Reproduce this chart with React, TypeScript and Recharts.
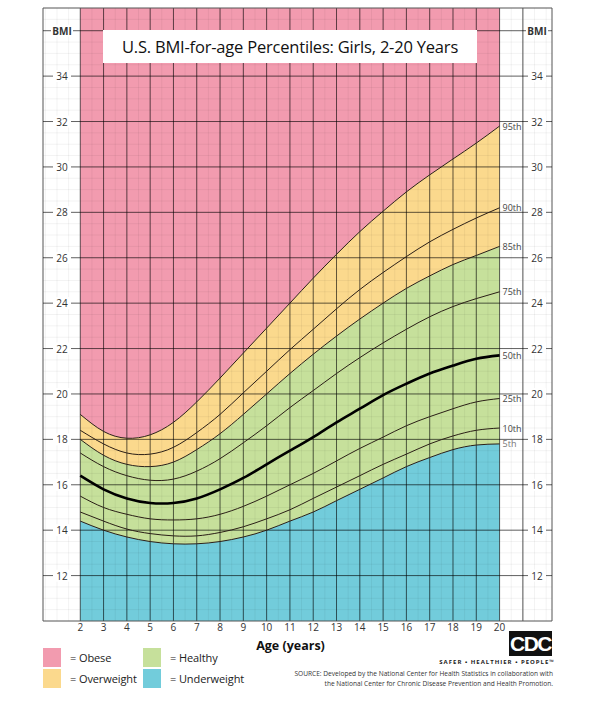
import React from "react";
import {
  Area,
  ComposedChart,
  Label,
  Line,
  ReferenceLine,
  XAxis,
  YAxis,
} from "recharts";

// ages in years, one row per birthday
const AGES = [2, 3, 4, 5, 6, 7, 8, 9, 10, 11, 12, 13, 14, 15, 16, 17, 18, 19, 20];

// BMI percentile curves
const P5 = [14.4, 14.0, 13.7, 13.5, 13.4, 13.4, 13.5, 13.7, 14.0, 14.4, 14.8, 15.3, 15.8, 16.3, 16.8, 17.2, 17.55, 17.75, 17.8];
const P10 = [14.8, 14.4, 14.05, 13.85, 13.75, 13.75, 13.9, 14.15, 14.5, 14.9, 15.4, 15.9, 16.4, 16.9, 17.35, 17.8, 18.15, 18.4, 18.5];
const P25 = [15.5, 15.0, 14.7, 14.5, 14.45, 14.5, 14.7, 15.05, 15.5, 16.0, 16.5, 17.05, 17.6, 18.1, 18.6, 19.0, 19.35, 19.65, 19.8];
const P50 = [16.4, 15.8, 15.4, 15.2, 15.2, 15.4, 15.8, 16.3, 16.9, 17.5, 18.1, 18.75, 19.35, 19.95, 20.45, 20.9, 21.25, 21.55, 21.7];
const P75 = [17.4, 16.8, 16.4, 16.2, 16.25, 16.6, 17.15, 17.85, 18.6, 19.4, 20.15, 20.9, 21.6, 22.25, 22.85, 23.4, 23.85, 24.2, 24.5];
const P85 = [18.0, 17.3, 16.9, 16.8, 17.0, 17.55, 18.25, 19.1, 20.0, 20.9, 21.75, 22.55, 23.3, 24.0, 24.65, 25.2, 25.7, 26.1, 26.5];
const P90 = [18.4, 17.8, 17.4, 17.35, 17.65, 18.3, 19.1, 20.05, 21.0, 21.95, 22.85, 23.75, 24.6, 25.35, 26.05, 26.7, 27.25, 27.75, 28.2];
const P95 = [19.1, 18.35, 18.05, 18.2, 18.75, 19.65, 20.7, 21.8, 22.9, 24.0, 25.1, 26.15, 27.15, 28.05, 28.9, 29.65, 30.35, 31.05, 31.8];

const BMI_TICKS = [12, 14, 16, 18, 20, 22, 24, 26, 28, 30, 32, 34, 36];
const AGE_TICKS = AGES;

const X_MIN = 0.4;
const X_MAX = 22.25;
const Y_MIN = 10;
const Y_MAX = 37;

const PINK = "#F29BAF";
const YELLOW = "#FBD98D";
const GREEN = "#C6E09B";
const BLUE = "#72CCDB";
const INK = "#2a1e16";

const data = AGES.map((age, i) => ({
  age,
  p5: P5[i],
  p10: P10[i],
  p25: P25[i],
  p50: P50[i],
  p75: P75[i],
  p85: P85[i],
  p90: P90[i],
  p95: P95[i],
}));

const PERCENTILES = [
  { key: "p95", name: "95th" },
  { key: "p90", name: "90th" },
  { key: "p85", name: "85th" },
  { key: "p75", name: "75th" },
  { key: "p50", name: "50th" },
  { key: "p25", name: "25th" },
  { key: "p10", name: "10th" },
  { key: "p5", name: "5th" },
];

const minorX: number[] = [];
for (let v = 0.5; v < X_MAX; v += 0.5) minorX.push(v);
const minorY: number[] = [];
for (let v = Y_MIN + 0.5; v < Y_MAX; v += 0.5) minorY.push(v);

const font = "'Open Sans', 'Noto Sans', sans-serif";

// BMI label drawn on both sides of a major horizontal line
function BmiLabel(props: any) {
  const { viewBox, value } = props;
  const y = viewBox.y;
  const isHead = value === 36;
  const text = isHead ? "BMI" : String(value);
  const w = isHead ? 22 : 18;
  const side = (cx: number) => (
    <>
      <rect x={cx - w / 2} y={y - 6} width={w} height={12} fill="#fff" />
      <text
        x={cx}
        y={y}
        textAnchor="middle"
        dominantBaseline="central"
        fontSize={10}
        fontWeight={isHead ? 700 : 400}
        fill="#333"
        fontFamily={font}
      >
        {text}
      </text>
    </>
  );
  return (
    <g>
      {side(viewBox.x + 19)}
      {side(viewBox.x + viewBox.width - 15)}
    </g>
  );
}

function endLabel(name: string) {
  return (props: any) => {
    const { x, y, index } = props;
    if (index !== AGES.length - 1) return null;
    return (
      <text
        x={x + 3}
        y={y}
        dominantBaseline="central"
        fontSize={9}
        fill={name === "5th" ? "#777" : "#444"}
        fontFamily={font}
      >
        {name}
      </text>
    );
  };
}

function Swatch({ color, label }: { color: string; label: string }) {
  return (
    <div style={{ display: "flex", alignItems: "center", height: 19, marginBottom: 2 }}>
      <div style={{ width: 18, height: 19, background: color }} />
      <span style={{ marginLeft: 9, fontSize: 11, color: "#222", letterSpacing: -0.1 }}>{label}</span>
    </div>
  );
}

export default function App() {
  return (
    <div
      style={{
        position: "absolute",
        left: 0,
        top: 0,
        width: 600,
        height: 705,
        background: "#fff",
        fontFamily: font,
      }}
    >
      <ComposedChart
        width={600}
        height={705}
        data={data}
        margin={{ top: 8, right: 48, bottom: 54, left: 43 }}
      >
        <Area
          dataKey={(d: any) => [d.p95, Y_MAX]}
          type="natural"
          fill={PINK}
          fillOpacity={1}
          stroke="none"
          isAnimationActive={false}
        />
        <Area
          dataKey={(d: any) => [d.p85, d.p95]}
          type="natural"
          fill={YELLOW}
          fillOpacity={1}
          stroke="none"
          isAnimationActive={false}
        />
        <Area
          dataKey={(d: any) => [d.p5, d.p85]}
          type="natural"
          fill={GREEN}
          fillOpacity={1}
          stroke="none"
          isAnimationActive={false}
        />
        <Area
          dataKey={(d: any) => [Y_MIN, d.p5]}
          type="natural"
          fill={BLUE}
          fillOpacity={1}
          stroke="none"
          isAnimationActive={false}
        />

        {minorX.map((v) => (
          <ReferenceLine key={"mx" + v} x={v} stroke="#000" strokeOpacity={0.05} />
        ))}
        {minorY.map((v) => (
          <ReferenceLine key={"my" + v} y={v} stroke="#000" strokeOpacity={0.05} />
        ))}
        {AGE_TICKS.map((v) => (
          <ReferenceLine key={"x" + v} x={v} stroke="#000" strokeOpacity={0.6} />
        ))}
        <ReferenceLine x={X_MIN} stroke="#555" />
        <ReferenceLine x={21} stroke="#555" />
        <ReferenceLine x={X_MAX} stroke="#555" />
        <ReferenceLine y={Y_MIN} stroke="#555" />
        <ReferenceLine y={Y_MAX} stroke="#555" />
        {BMI_TICKS.map((v) => (
          <ReferenceLine
            key={"y" + v}
            y={v}
            stroke="#000"
            strokeOpacity={0.6}
            label={<BmiLabel value={v} />}
          />
        ))}

        {PERCENTILES.map((p) => (
          <Line
            key={p.key}
            dataKey={p.key}
            type="natural"
            stroke={p.key === "p50" ? "#000" : INK}
            strokeWidth={p.key === "p50" ? 2.6 : 1}
            dot={false}
            activeDot={false}
            label={endLabel(p.name)}
            isAnimationActive={false}
          />
        ))}

        <XAxis
          dataKey="age"
          type="number"
          domain={[X_MIN, X_MAX]}
          ticks={AGE_TICKS}
          allowDataOverflow
          axisLine={false}
          tickLine={false}
          height={30}
          tick={{ fontSize: 10, fill: "#333", fontFamily: font, dy: -3 }}
          tickMargin={0}
        >
          <Label
            value="Age (years)"
            position="insideBottom"
            offset={1}
            dx={-7}
            style={{ fontSize: 12.5, fontWeight: 700, fill: "#111", fontFamily: font }}
          />
        </XAxis>
        <YAxis type="number" domain={[Y_MIN, Y_MAX]} allowDataOverflow hide />
      </ComposedChart>

      <div
        style={{
          position: "absolute",
          left: 103,
          top: 30,
          width: 374,
          height: 33,
          background: "#fff",
          display: "flex",
          alignItems: "center",
          justifyContent: "center",
          fontSize: 16.5,
          color: "#111",
          letterSpacing: -0.2,
        }}
      >
        U.S. BMI-for-age Percentiles: Girls, 2-20 Years
      </div>

      <div style={{ position: "absolute", left: 43, top: 648 }}>
        <Swatch color={PINK} label="= Obese" />
        <Swatch color={YELLOW} label="= Overweight" />
      </div>
      <div style={{ position: "absolute", left: 143, top: 648 }}>
        <Swatch color={GREEN} label="= Healthy" />
        <Swatch color={BLUE} label="= Underweight" />
      </div>

      <div
        style={{
          position: "absolute",
          left: 509,
          top: 631,
          width: 43,
          height: 25,
          background: "#111",
          color: "#fff",
          fontFamily: "'Liberation Sans Narrow', 'Liberation Sans', sans-serif",
          fontWeight: 700,
          fontSize: 21,
          lineHeight: "25px",
          textAlign: "center",
          letterSpacing: -1.5,
        }}
      >
        CDC
      </div>
      <div
        style={{
          position: "absolute",
          right: 45,
          top: 658,
          fontSize: 6,
          fontWeight: 700,
          letterSpacing: 1,
          color: "#222",
        }}
      >
        SAFER • HEALTHIER • PEOPLE™
      </div>
      <div
        style={{
          position: "absolute",
          right: 47,
          top: 669,
          fontSize: 6.6,
          lineHeight: "10px",
          textAlign: "right",
          color: "#333",
          whiteSpace: "nowrap",
        }}
      >
        SOURCE: Developed by the National Center for Health Statistics in collaboration with
        <br />
        the National Center for Chronic Disease Prevention and Health Promotion.
      </div>
    </div>
  );
}
